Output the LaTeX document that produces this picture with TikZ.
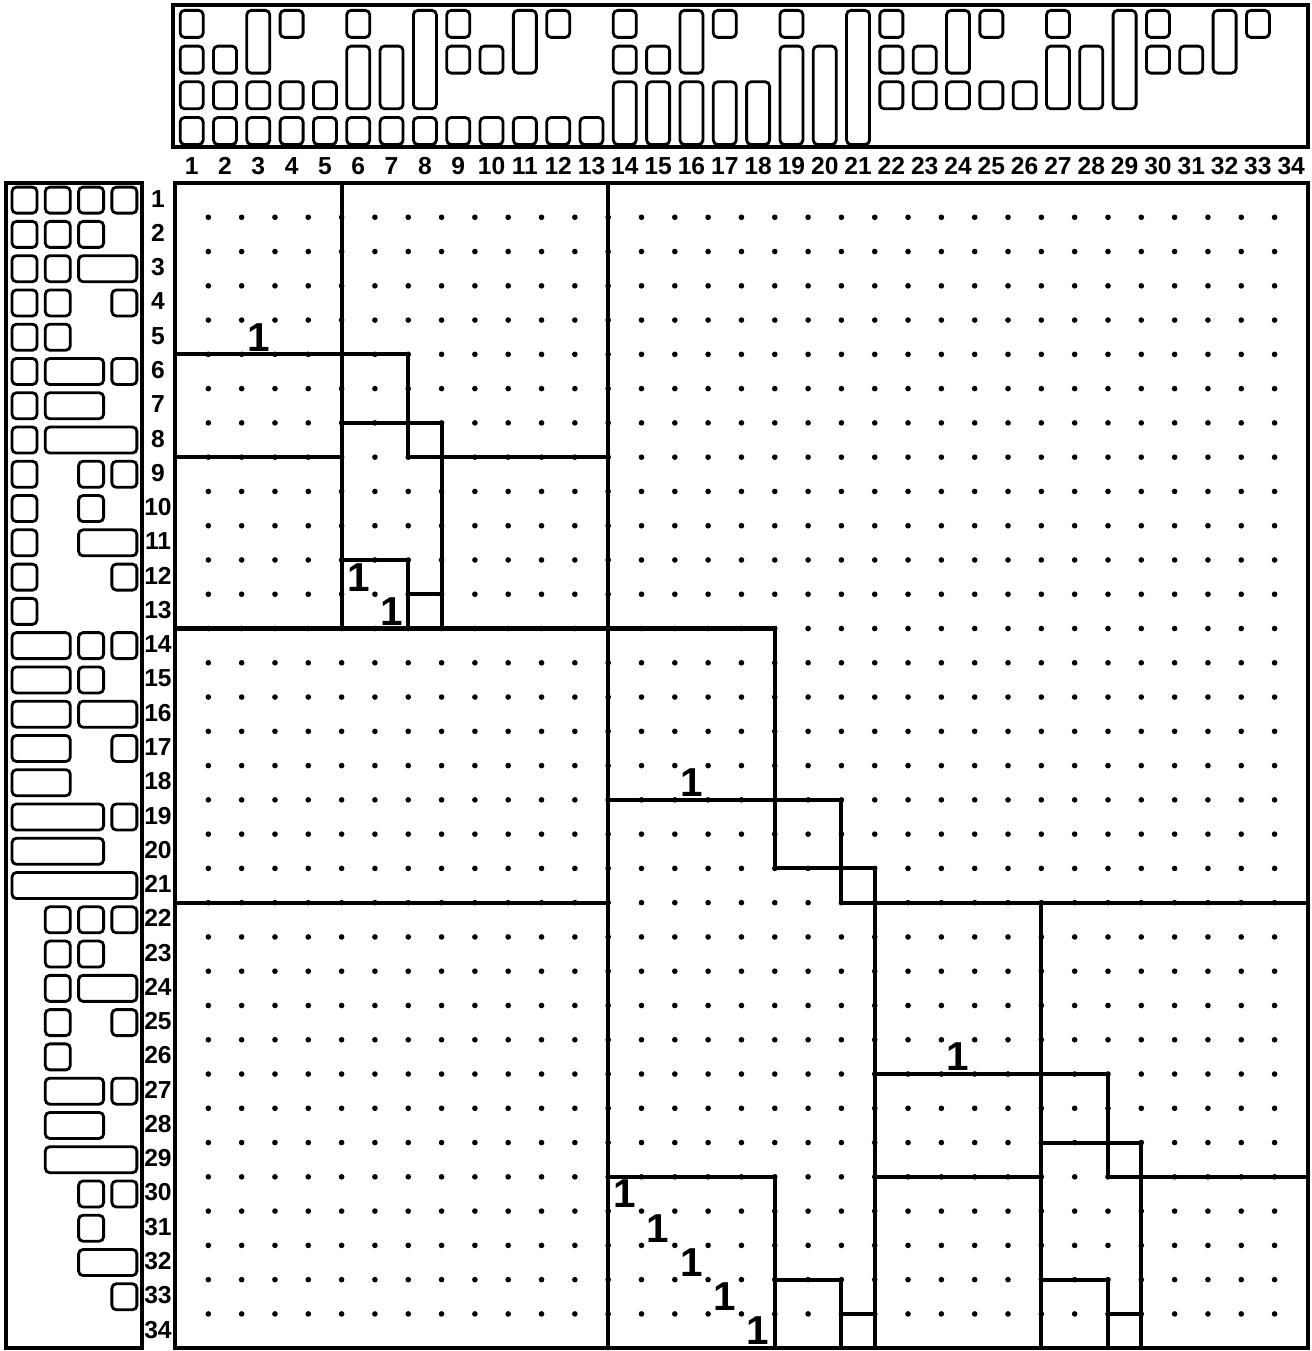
\documentclass[tikz,border=0pt]{standalone}
\usepackage{fontspec}
\setmainfont{Liberation Sans}
\usepackage{tikz}
\tikzset{
  slotbox/.style   = {draw, line width=1.6pt, rounded corners=2.5pt},
  frame/.style     = {draw, line width=2pt},
  blockline/.style = {line width=2.3pt},
  gdot/.style      = {circle, fill, inner sep=0pt, minimum size=3.2pt},
  numlabel/.style  = {font=\fontsize{14}{14}\selectfont\bfseries, inner sep=0pt, anchor=base},
  entry/.style     = {font=\fontsize{23}{23}\selectfont\bfseries, inner sep=0pt},
}
\newcommand{\slotlist}{1/{1/1,2/1,3/1,4/1}, 2/{1/1,2/1,3/1}, 3/{1/1,2/1,3/2},
  4/{1/1,2/1,4/1}, 5/{1/1,2/1}, 6/{1/1,2/2,4/1}, 7/{1/1,2/2}, 8/{1/1,2/3},
  9/{1/1,3/1,4/1}, 10/{1/1,3/1}, 11/{1/1,3/2}, 12/{1/1,4/1}, 13/{1/1},
  14/{1/2,3/1,4/1}, 15/{1/2,3/1}, 16/{1/2,3/2}, 17/{1/2,4/1}, 18/{1/2},
  19/{1/3,4/1}, 20/{1/3}, 21/{1/4}, 22/{2/1,3/1,4/1}, 23/{2/1,3/1},
  24/{2/1,3/2}, 25/{2/1,4/1}, 26/{2/1}, 27/{2/2,4/1}, 28/{2/2}, 29/{2/3},
  30/{3/1,4/1}, 31/{3/1}, 32/{3/2}, 33/{4/1}}

\begin{document}
\begin{tikzpicture}[x=0.02cm, y=-0.02cm]
  \useasboundingbox (0,0) rectangle (1311,1351);
  \draw[frame] (173,5) rectangle (1308,147);
  \draw[frame] (6,183) rectangle (142,1348);
  \draw[frame] (175,183) rectangle (1308,1348);
  \foreach \n/\parts in \slotlist {
    \foreach \s/\l in \parts {
      \draw[slotbox] ({175+33.32*(\n-0.5)-11.5},{131-35.7*(\s+\l-2)-13.5})
        rectangle ({175+33.32*(\n-0.5)+11.5},{131-35.7*(\s-1)+13.5});
      \draw[slotbox] ({24.5+33.3*(\s-1)-12.5},{183+34.27*(\n-0.5)-13})
        rectangle ({24.5+33.3*(\s+\l-2)+12.5},{183+34.27*(\n-0.5)+13});
    }
  }
  \foreach \n in {1,...,34} {
    \node[numlabel] (col-\n) at ({175+33.32*(\n-0.5)},175) {\n};
    \node[numlabel] (row-\n) at (158,{183+34.27*(\n-0.5)+7}) {\n};
  }
  \begin{scope}[shift={(175,183)}, xscale=33.32, yscale=34.27]
    \foreach \k in {1,...,33}
      \foreach \j in {1,...,33}
        \node[gdot] (d-\k-\j) at (\k,\j) {};
    \draw[blockline] (5,0) -- (5,13);
    \draw[blockline] (13,0) -- (13,34);
    \draw[blockline] (0,5) -- (7,5) -- (7,8);
    \draw[blockline] (5,7) -- (8,7) -- (8,13);
    \draw[blockline] (0,8) -- (5,8);
    \draw[blockline] (7,8) -- (13,8);
    \draw[blockline] (5,11) -- (7,11) -- (7,13);
    \draw[blockline] (7,12) -- (8,12);
    \draw[blockline] (0,13) -- (18,13) -- (18,20);
    \draw[blockline] (13,18) -- (20,18) -- (20,21);
    \draw[blockline] (18,20) -- (21,20) -- (21,34);
    \draw[blockline] (0,21) -- (13,21);
    \draw[blockline] (20,21) -- (34,21);
    \draw[blockline] (26,21) -- (26,34);
    \draw[blockline] (21,26) -- (28,26) -- (28,29);
    \draw[blockline] (26,28) -- (29,28) -- (29,34);
    \draw[blockline] (13,29) -- (18,29) -- (18,34);
    \draw[blockline] (21,29) -- (26,29);
    \draw[blockline] (28,29) -- (34,29);
    \draw[blockline] (18,32) -- (20,32) -- (20,34);
    \draw[blockline] (20,33) -- (21,33);
    \draw[blockline] (26,32) -- (28,32) -- (28,34);
    \draw[blockline] (28,33) -- (29,33);
    \foreach \c/\r in {3/5, 6/12, 7/13, 16/18, 24/26, 14/30, 15/31, 16/32, 17/33, 18/34}
      \node[entry] (e-\c-\r) at ({\c-0.5},{\r-0.5}) {1};
  \end{scope}
\end{tikzpicture}
\end{document}
